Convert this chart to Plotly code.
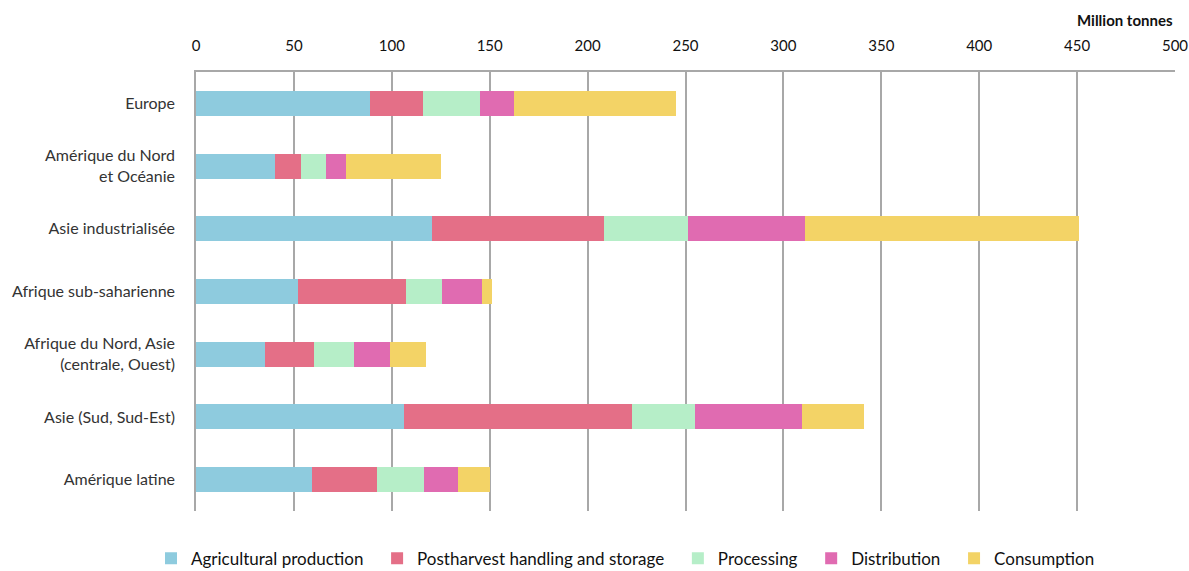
import plotly.graph_objects as go

regions = [
    "Europe",
    "Amérique du Nord<br>et Océanie",
    "Asie industrialisée",
    "Afrique sub-saharienne",
    "Afrique du Nord, Asie<br>(centrale, Ouest)",
    "Asie (Sud, Sud-Est)",
    "Amérique latine",
]

agricultural = [89.0, 40.5, 120.5, 52.3, 35.4, 106.2, 59.4]
postharvest = [27.0, 13.0, 88.0, 54.8, 24.9, 116.6, 33.2]
processing = [29.0, 13.0, 43.0, 18.5, 20.4, 32.2, 23.9]
distribution = [17.5, 10.0, 59.5, 20.3, 18.5, 54.4, 17.5]
consumption = [82.5, 48.5, 140.0, 5.4, 18.1, 31.6, 16.2]

series = [
    ("Agricultural production", agricultural, "#8ECBDE"),
    ("Postharvest handling and storage", postharvest, "#E46F87"),
    ("Processing", processing, "#B6EEC8"),
    ("Distribution", distribution, "#E06BB1"),
    ("Consumption", consumption, "#F3D366"),
]

x_ticks = [0, 50, 100, 150, 200, 250, 300, 350, 400, 450, 500]

pad = "\u00a0\u00a0"

fig = go.Figure()
for name, vals, col in series:
    fig.add_trace(go.Bar(
        y=regions, x=vals, name=name + pad, orientation="h",
        marker=dict(color=col, line=dict(width=0)),
        width=0.4,
    ))

fig.update_layout(
    barmode="stack",
    width=1189, height=571,
    margin=dict(l=196, r=14, t=72, b=60),
    paper_bgcolor="white", plot_bgcolor="white",
    font=dict(family="Lato", color="#222"),
    xaxis=dict(
        side="top", range=[0, 500], tickvals=x_ticks,
        showgrid=True, gridcolor="#A8A8A8", gridwidth=1.5,
        showline=True, linecolor="#A8A8A8", linewidth=1.5,
        ticks="", ticklabelstandoff=13, zeroline=False,
        tickfont=dict(family="Lato", size=15, color="#111"),
        automargin=False,
    ),
    yaxis=dict(
        categoryorder="array", categoryarray=regions, autorange="reversed",
        showline=True, linecolor="#A8A8A8", linewidth=1.5,
        ticks="", ticklabelstandoff=16, showgrid=False,
        tickfont=dict(family="Lato", size=16, color="#333"),
        automargin=False,
    ),
    legend=dict(
        orientation="h", xref="container", x=0.127, xanchor="left",
        yref="container", y=0.053, yanchor="top",
        font=dict(family="Lato", size=17, color="#111"),
        traceorder="normal", itemwidth=30,
    ),
    annotations=[dict(
        text="<b>Million tonnes</b>", xref="paper", yref="paper",
        x=1.0, y=1.0, yshift=52, xanchor="right", yanchor="middle",
        showarrow=False, font=dict(family="Lato", size=15, color="#111"),
    )],
    bargap=0.6,
)

fig.write_html("out.html")
